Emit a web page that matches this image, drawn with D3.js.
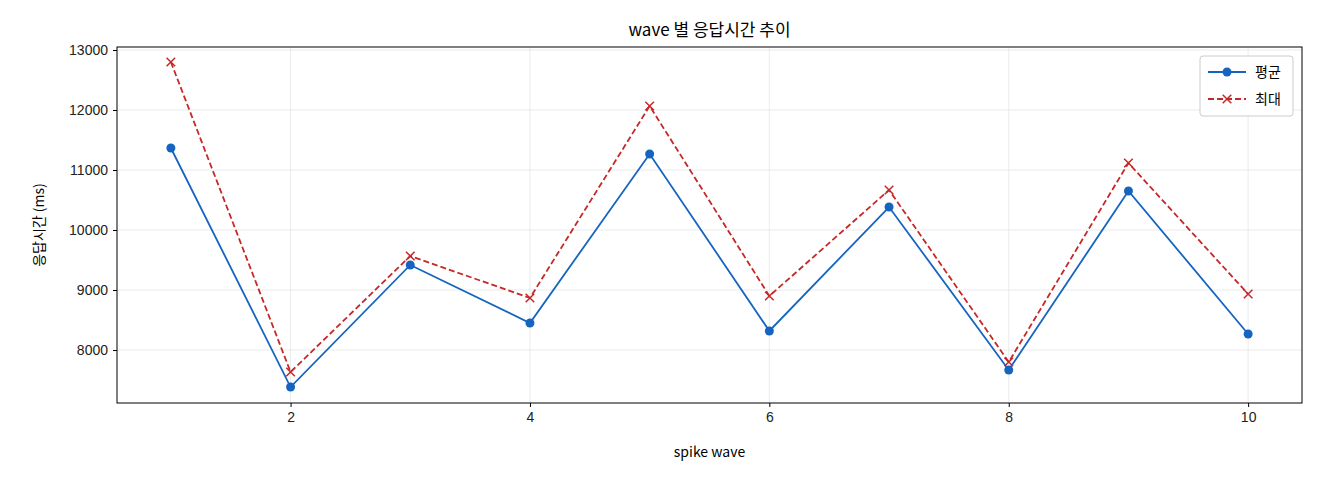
<!DOCTYPE html>
<html><head><meta charset="utf-8">
<script src="https://cdn.jsdelivr.net/npm/d3@7"></script>
<style>body{margin:0;background:#fff;font-family:"Noto Sans CJK KR","DejaVu Sans",sans-serif;}</style>
</head><body><svg id="c" width="1320" height="480"></svg>
<script>
const waves = [1, 2, 3, 4, 5, 6, 7, 8, 9, 10];
const avgMs = [11367, 7383, 9417, 8450, 11267, 8317, 10383, 7667, 10650, 8267];
const maxMs = [12800, 7633, 9567, 8867, 12067, 8900, 10667, 7800, 11117, 8933];
const xTicks = [2, 4, 6, 8, 10];
const yTicks = [8000, 9000, 10000, 11000, 12000, 13000];

const m = { top: 47, right: 18, bottom: 77, left: 117 };
const W = 1320, H = 480;
const svg = d3.select("#c");
const x = d3.scaleLinear().domain([0.55, 10.45]).range([m.left, W - m.right]);
const y = d3.scaleLinear().domain([7117, 13050]).range([H - m.bottom, m.top]);

const grid = svg.append("g").attr("stroke", "#e6e6e6").attr("stroke-width", 0.8);
xTicks.forEach(t => grid.append("line").attr("x1", x(t)).attr("x2", x(t)).attr("y1", m.top).attr("y2", H - m.bottom));
yTicks.forEach(t => grid.append("line").attr("x1", m.left).attr("x2", W - m.right).attr("y1", y(t)).attr("y2", y(t)));

const xa = svg.append("g").attr("transform", `translate(0,${H - m.bottom})`)
  .call(d3.axisBottom(x).tickValues(xTicks).tickSize(4).tickPadding(5));
const ya = svg.append("g").attr("transform", `translate(${m.left},0)`)
  .call(d3.axisLeft(y).tickValues(yTicks).tickFormat(d3.format("d")).tickSize(4).tickPadding(5));
[xa, ya].forEach(a => { a.selectAll("text").style("font-size", "14px").attr("fill", "#222"); a.select(".domain").remove(); });
svg.append("rect").attr("x", m.left).attr("y", m.top).attr("width", W - m.left - m.right)
  .attr("height", H - m.top - m.bottom).attr("fill", "none").attr("stroke", "#000");

const line = d3.line().x((d, i) => x(waves[i])).y(d => y(d));
svg.append("path").datum(maxMs).attr("d", line).attr("fill", "none").attr("stroke", "#c62828")
  .attr("stroke-width", 1.8).attr("stroke-dasharray", "6,3");
svg.append("path").datum(avgMs).attr("d", line).attr("fill", "none").attr("stroke", "#1565c0").attr("stroke-width", 1.8);
svg.append("g").selectAll("circle").data(avgMs).join("circle")
  .attr("cx", (d, i) => x(waves[i])).attr("cy", d => y(d)).attr("r", 4.5).attr("fill", "#1565c0");
const cross = d3.symbol().type(d3.symbolX).size(50);
svg.append("g").selectAll("path").data(maxMs).join("path").attr("d", cross)
  .attr("transform", (d, i) => `translate(${x(waves[i])},${y(d)})`).attr("stroke", "#c62828").attr("stroke-width", 1.5);

svg.append("text").attr("x", (m.left + W - m.right) / 2).attr("y", 36).attr("text-anchor", "middle")
  .style("font-size", "17px").text("wave 별 응답시간 추이");
svg.append("text").attr("x", (m.left + W - m.right) / 2).attr("y", 457).attr("text-anchor", "middle")
  .style("font-size", "14px").text("spike wave");
svg.append("text").attr("transform", `translate(44,${(m.top + H - m.bottom) / 2}) rotate(-90)`)
  .attr("text-anchor", "middle").style("font-size", "14px").text("응답시간 (ms)");

const lg = svg.append("g").attr("transform", "translate(1200,56)");
lg.append("rect").attr("width", 93).attr("height", 60).attr("rx", 3).attr("fill", "#fff").attr("stroke", "#ccc");
lg.append("line").attr("x1", 8).attr("x2", 46).attr("y1", 16).attr("y2", 16).attr("stroke", "#1565c0").attr("stroke-width", 1.8);
lg.append("circle").attr("cx", 27).attr("cy", 16).attr("r", 4.5).attr("fill", "#1565c0");
lg.append("line").attr("x1", 8).attr("x2", 46).attr("y1", 43).attr("y2", 43).attr("stroke", "#c62828").attr("stroke-width", 1.8).attr("stroke-dasharray", "6,3");
lg.append("path").attr("d", cross).attr("transform", "translate(27,43)").attr("stroke", "#c62828").attr("stroke-width", 1.5);
lg.append("text").attr("x", 55).attr("y", 21).style("font-size", "14px").text("평균");
lg.append("text").attr("x", 55).attr("y", 48).style("font-size", "14px").text("최대");
</script></body></html>
